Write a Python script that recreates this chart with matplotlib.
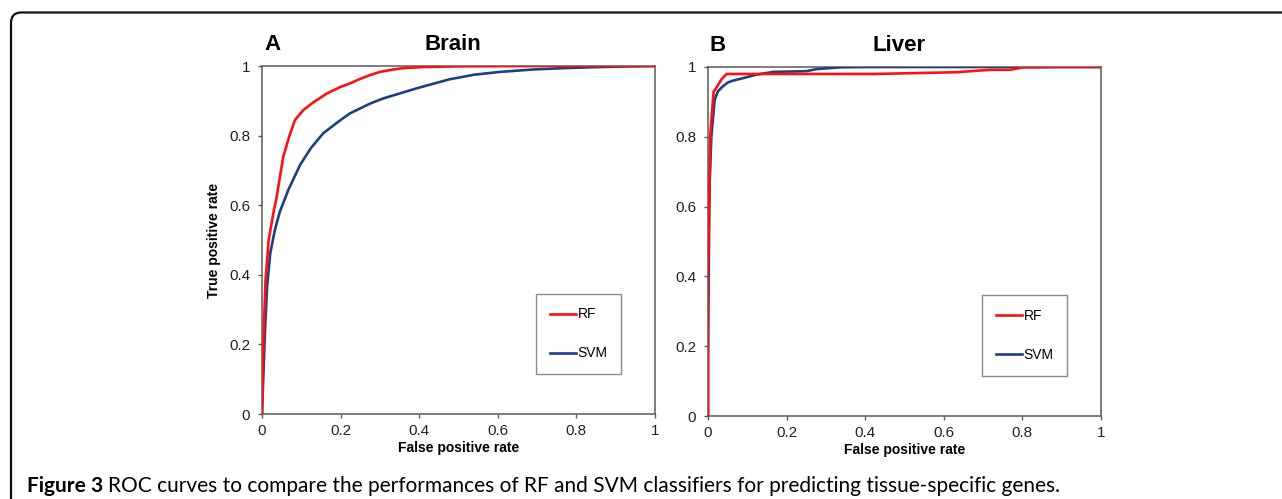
import matplotlib

matplotlib.use("Agg")
import matplotlib.pyplot as plt
from matplotlib.patches import PathPatch
from matplotlib.path import Path

# ROC points: (false positive rate, true positive rate)
brain_rf_fpr = [0.0, 0.002, 0.004, 0.009, 0.017, 0.020, 0.031, 0.036, 0.054, 0.070, 0.084,
                0.105, 0.130, 0.165, 0.200, 0.224, 0.250, 0.275, 0.300, 0.334, 0.360,
                0.410, 0.500, 0.700, 1.0]
brain_rf_tpr = [0.0, 0.127, 0.223, 0.385, 0.500, 0.520, 0.590, 0.615, 0.739, 0.800, 0.845,
                0.873, 0.895, 0.921, 0.940, 0.950, 0.963, 0.974, 0.983, 0.990, 0.994,
                0.997, 0.999, 1.0, 1.0]

brain_svm_fpr = [0.0, 0.004, 0.008, 0.013, 0.021, 0.033, 0.045, 0.067, 0.097, 0.125, 0.156,
                 0.199, 0.224, 0.275, 0.309, 0.394, 0.478, 0.540, 0.605, 0.690, 0.770,
                 0.860, 0.940, 1.0]
brain_svm_tpr = [0.0, 0.127, 0.250, 0.366, 0.462, 0.530, 0.580, 0.644, 0.716, 0.765, 0.807,
                 0.844, 0.864, 0.892, 0.907, 0.936, 0.962, 0.975, 0.983, 0.990, 0.994,
                 0.997, 0.999, 1.0]

liver_rf_fpr = [0.0, 0.0, 0.0025, 0.006, 0.0144, 0.021, 0.034, 0.047, 0.208, 0.420, 0.548,
                0.632, 0.717, 0.768, 0.802, 0.887, 1.0]
liver_rf_tpr = [0.0, 0.41, 0.58, 0.81, 0.930, 0.940, 0.964, 0.980, 0.980, 0.980, 0.983,
                0.985, 0.992, 0.992, 0.999, 1.0, 1.0]

liver_svm_fpr = [0.0, 0.0, 0.0017, 0.004, 0.0085, 0.017, 0.025, 0.038, 0.051, 0.064, 0.089,
                 0.123, 0.166, 0.250, 0.276, 0.335, 0.403, 1.0]
liver_svm_tpr = [0.0, 0.17, 0.41, 0.66, 0.80, 0.906, 0.930, 0.945, 0.956, 0.961, 0.968,
                 0.978, 0.986, 0.988, 0.994, 0.999, 1.0, 1.0]

ticks = [0, 0.2, 0.4, 0.6, 0.8, 1]
tick_labels = ["0", "0.2", "0.4", "0.6", "0.8", "1"]

panels = [
    ("A", "Brain", brain_rf_fpr, brain_rf_tpr, brain_svm_fpr, brain_svm_tpr),
    ("B", "Liver", liver_rf_fpr, liver_rf_tpr, liver_svm_fpr, liver_svm_tpr),
]

caption_bold = "Figure 3"
caption_rest = ("ROC curves to compare the performances of RF and SVM classifiers "
                "for predicting tissue-specific genes.")

RED = "#ff1010"
BLUE = "#1f3f80"
SPINE = "#5a5a5a"

plt.rcParams["font.family"] = ["Liberation Sans", "DejaVu Sans"]

W, H = 1282, 499
fig = plt.figure(figsize=(W / 100, H / 100), dpi=100)

axes_px = [(262, 66, 393, 348), (708, 67, 393, 349)]

for (letter, title, rf_x, rf_y, svm_x, svm_y), (x0, y0, w, h) in zip(panels, axes_px):
    ax = fig.add_axes([x0 / W, 1 - (y0 + h) / H, w / W, h / H])
    ax.plot(svm_x, svm_y, color=BLUE, lw=1.9, label="SVM", zorder=3)
    ax.plot(rf_x, rf_y, color=RED, lw=1.9, label="RF", zorder=4)
    ax.set_xlim(0, 1)
    ax.set_ylim(0, 1)
    ax.set_xticks(ticks)
    ax.set_xticklabels(tick_labels)
    ax.set_yticks(ticks)
    ax.set_yticklabels(tick_labels)
    for s in ax.spines.values():
        s.set_color(SPINE)
        s.set_linewidth(1.1)
    ax.tick_params(axis="both", direction="out", length=3, width=1, color=SPINE,
                   labelsize=11, labelcolor="#222222")
    ax.tick_params(axis="x", pad=4)
    ax.tick_params(axis="y", pad=5.5)
    ax.set_xlabel("False positive rate", fontsize=10, fontweight="bold", labelpad=2.5)
    if letter == "A":
        ax.set_ylabel("True positive rate", fontsize=10, fontweight="bold", labelpad=6)

    ax.text(0.005, 1.062, letter, transform=ax.transAxes, fontsize=16,
            fontweight="bold", va="center", ha="left")
    ax.text(0.486, 1.062, title, transform=ax.transAxes, fontsize=16,
            fontweight="bold", va="center", ha="center")

    handles, labels = ax.get_legend_handles_labels()
    leg = ax.legend(handles[::-1], labels[::-1], loc="upper left",
                    bbox_to_anchor=(0.697, 0.346), borderaxespad=0, fontsize=10,
                    handlelength=1.9, handletextpad=0.1, labelspacing=1.8,
                    borderpad=1.0, fancybox=False, framealpha=1)
    leg.get_frame().set_edgecolor("#8a8a8a")
    leg.get_frame().set_linewidth(1.0)

# outer caption frame: left and top edges with a rounded corner
fx = lambda x: x / W
fy = lambda y: 1 - y / H
verts = [(fx(11), fy(499)), (fx(11), fy(23)), (fx(11), fy(12.5)), (fx(21), fy(12.5)),
         (fx(1282), fy(12.5))]
codes = [Path.MOVETO, Path.LINETO, Path.CURVE3, Path.CURVE3, Path.LINETO]
fig.add_artist(PathPatch(Path(verts, codes), transform=fig.transFigure,
                         fill=False, lw=1.6, edgecolor="#111111"))

t1 = fig.text(27 / W, fy(492), caption_bold, fontsize=15, fontweight="bold",
              family=["Lato", "DejaVu Sans"], va="baseline", ha="left")
fig.canvas.draw()
bb = t1.get_window_extent()
fig.text((bb.x1 + 5) / W, fy(492), caption_rest, fontsize=15,
         family=["Lato", "DejaVu Sans"], va="baseline", ha="left")

fig.savefig("out.png", dpi=100)
